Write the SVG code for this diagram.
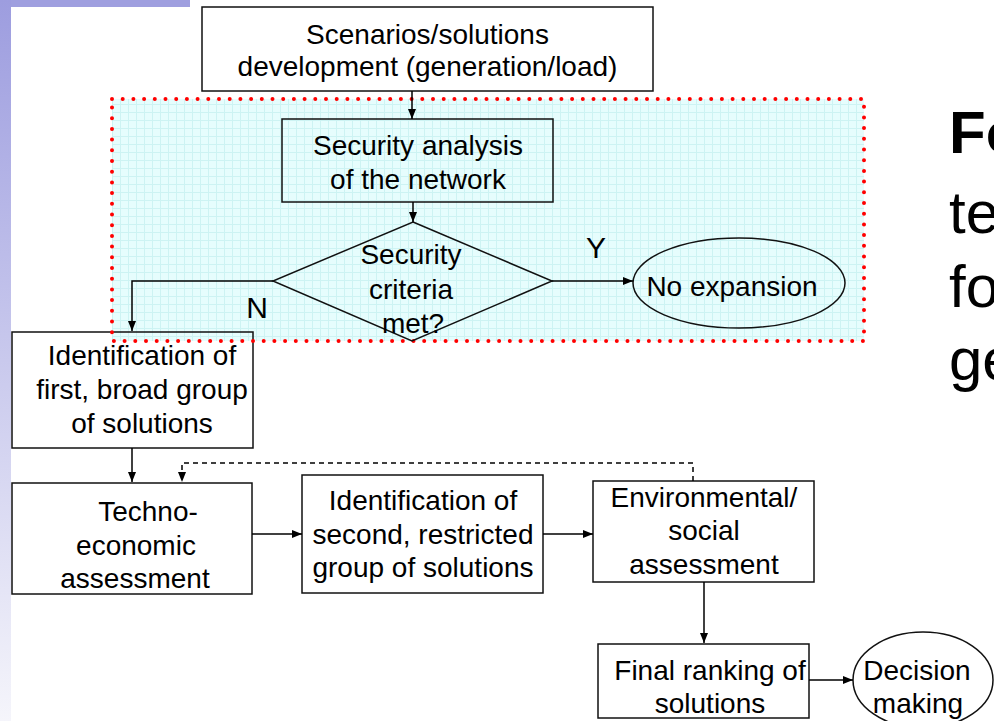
<svg xmlns="http://www.w3.org/2000/svg" width="994" height="721" viewBox="0 0 994 721">
<style>
.t{font-family:"Liberation Sans",Arial,sans-serif;font-size:28px;fill:#000;text-anchor:middle}
.big{font-family:"Liberation Sans",Arial,sans-serif;font-size:60px;fill:#000}
.box{fill:#fff;stroke:#111;stroke-width:1.5}
.nofill{fill:none;stroke:#111;stroke-width:1.5}
.con{fill:none;stroke:#000;stroke-width:1.5}
</style>
<defs>
<linearGradient id="lav" x1="0" y1="0" x2="0" y2="1">
<stop offset="0" stop-color="#9d9ddf"/>
<stop offset="1" stop-color="#f5f5fb"/>
</linearGradient>
<pattern id="grid" width="8" height="8" patternUnits="userSpaceOnUse">
<rect width="8" height="8" fill="#e6fdfd"/>
<path d="M0,0.5 H8 M0.5,0 V8" stroke="#cdf3f3" stroke-width="1" fill="none"/>
</pattern>
<marker id="ah" markerWidth="10" markerHeight="8" refX="10" refY="4" orient="auto" markerUnits="userSpaceOnUse">
<path d="M0,0 L10,4 L0,8 z" fill="#000"/>
</marker>
</defs>
<rect width="994" height="721" fill="#fff"/>
<rect x="0" y="0" width="190" height="7" fill="#9f9fdf"/>
<rect x="0" y="0" width="11" height="721" fill="url(#lav)"/>

<rect id="region-fill" x="112" y="99" width="752" height="242" fill="url(#grid)"/>

<g id="n-identify1">
<rect class="nofill" x="12" y="332" width="241" height="116"/>
<text class="t" x="142" y="365">Identification of</text>
<text class="t" x="142" y="399">first, broad group</text>
<text class="t" x="142" y="433">of solutions</text>
</g>

<rect id="security-region" x="112" y="99" width="752" height="242" fill="none" stroke="#f00" stroke-width="4" stroke-linecap="round" stroke-dasharray="0 10.7"/>

<g id="n-scenarios">
<rect class="box" x="202" y="7" width="451" height="84" stroke="#333" stroke-width="2"/>
<text class="t" x="427.5" y="44">Scenarios/solutions</text>
<text class="t" x="427.5" y="76">development (generation/load)</text>
</g>

<g id="n-security">
<rect class="nofill" x="282" y="119" width="271" height="83"/>
<text class="t" x="418" y="155">Security analysis</text>
<text class="t" x="418" y="189">of the network</text>
</g>

<g id="n-criteria">
<polygon class="nofill" points="413,222 552,281 412,341 273,281"/>
<text class="t" x="411" y="264">Security</text>
<text class="t" x="411" y="299">criteria</text>
<text class="t" x="413" y="333">met?</text>
</g>

<g id="n-noexp">
<ellipse class="nofill" cx="739" cy="283" rx="106" ry="45"/>
<text class="t" x="732" y="296">No expansion</text>
</g>

<g id="n-techno">
<rect class="box" x="12" y="483" width="240" height="111"/>
<text class="t" x="148" y="521">Techno-</text>
<text class="t" x="136" y="555">economic</text>
<text class="t" x="135" y="588">assessment</text>
</g>

<g id="n-identify2">
<rect class="box" x="302" y="475" width="241" height="118"/>
<text class="t" x="423" y="510">Identification of</text>
<text class="t" x="423" y="544">second, restricted</text>
<text class="t" x="423" y="577">group of solutions</text>
</g>

<g id="n-env">
<rect class="box" x="593" y="481" width="221" height="101"/>
<text class="t" x="704" y="507">Environmental/</text>
<text class="t" x="704" y="540">social</text>
<text class="t" x="704" y="574">assessment</text>
</g>

<g id="n-final">
<rect class="box" x="598" y="644" width="211" height="74"/>
<text class="t" x="710" y="680">Final ranking of</text>
<text class="t" x="710" y="713">solutions</text>
</g>

<g id="n-decision">
<ellipse class="box" cx="923" cy="680" rx="70" ry="48"/>
<text class="t" x="917" y="680">Decision</text>
<text class="t" x="918" y="713">making</text>
</g>

<g id="connectors">
<line class="con" x1="412" y1="91" x2="412" y2="119" marker-end="url(#ah)"/>
<line class="con" x1="413" y1="202" x2="413" y2="222" marker-end="url(#ah)"/>
<line class="con" x1="552" y1="281" x2="633" y2="281" marker-end="url(#ah)"/>
<polyline class="con" points="273,281 132,281 132,331" marker-end="url(#ah)"/>
<line class="con" x1="132" y1="448" x2="132" y2="482" marker-end="url(#ah)"/>
<polyline class="con" points="693,481 693,463 182,463 182,482" stroke-dasharray="5 4" stroke-width="1.2" marker-end="url(#ah)"/>
<line class="con" x1="252" y1="534" x2="302" y2="534" marker-end="url(#ah)"/>
<line class="con" x1="543" y1="534" x2="593" y2="534" marker-end="url(#ah)"/>
<line class="con" x1="704" y1="582" x2="704" y2="643" marker-end="url(#ah)"/>
<line class="con" x1="809" y1="680" x2="853" y2="680" marker-end="url(#ah)"/>
</g>

<g id="labels">
<text class="t" x="596" y="258" style="font-size:30px">Y</text>
<text class="t" x="257" y="318" style="font-size:30px">N</text>
</g>

<g id="side-text">
<text class="big" x="949" y="153" font-weight="bold">Fo</text>
<text class="big" x="949" y="233">te</text>
<text class="big" x="949" y="307">fo</text>
<text class="big" x="949" y="380">ge</text>
</g>
</svg>
